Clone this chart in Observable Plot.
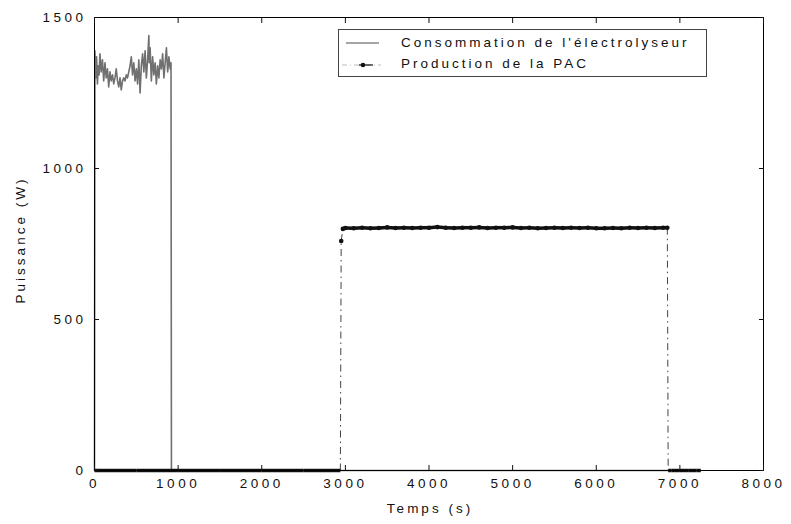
<!DOCTYPE html>
<html><head><meta charset="utf-8">
<script src="https://cdn.jsdelivr.net/npm/d3@7"></script>
<script src="https://cdn.jsdelivr.net/npm/@observablehq/plot@0.6"></script>
<style>
body{margin:0;background:#fff;}
#wrap{position:relative;width:791px;height:524px;font-family:"Liberation Sans",Arial,sans-serif;}
#wrap svg text{letter-spacing:3.5px;}
#legend{position:absolute;left:338px;top:29px;width:369px;height:48px;border:1px solid #444;background:#fff;box-sizing:border-box;font-size:13.5px;letter-spacing:3px;color:#111;}
.row{position:absolute;left:0;height:18px;line-height:18px;white-space:nowrap;}
.row svg{position:absolute;left:0;top:0;}
.row span{position:absolute;left:62px;top:0;}
.axt{position:absolute;font-size:13.5px;letter-spacing:3px;color:#111;white-space:nowrap;line-height:16px;}
</style></head>
<body><div id="wrap"></div>
<script>
// ---- data ----
const xTicks = [0, 1000, 2000, 3000, 4000, 5000, 6000, 7000, 8000];
const yTicks = [0, 500, 1000, 1500];
const xLabel = "Temps (s)";
const yLabel = "Puissance (W)";
const seriesNames = ["Consommation de l'électrolyseur", "Production de la PAC"];

const elecTime = [0, 5, 15, 25, 35, 45, 55, 65, 80, 95, 110, 125, 140, 155, 170, 185, 200, 215, 230, 245,
  260, 275, 290, 305, 320, 335, 350, 365, 380, 395, 410, 425, 440, 455, 470, 485, 500, 515, 530, 545,
  560, 575, 590, 605, 620, 635, 650, 655, 665, 680, 695, 710, 725, 740, 755, 770, 785, 800, 815, 830,
  845, 860, 875, 890, 905, 915, 920, 7250];
const elecPower = [0, 1390, 1300, 1370, 1280, 1340, 1310, 1380, 1320, 1360, 1290, 1350, 1300, 1330, 1270, 1320, 1290, 1310, 1280, 1300,
  1330, 1290, 1270, 1300, 1260, 1290, 1300, 1290, 1310, 1300, 1320, 1340, 1370, 1310, 1350, 1290, 1330, 1280, 1360, 1250,
  1340, 1380, 1320, 1390, 1300, 1360, 1440, 1350, 1400, 1290, 1370, 1310, 1350, 1280, 1340, 1300, 1360, 1330, 1380, 1300,
  1350, 1400, 1320, 1370, 1330, 1350, 0, 0];

const pacTime = [0, 500, 1000, 1500, 2000, 2500, 2940, 2950, 2970,
  3000, 3100, 3200, 3300, 3400, 3500, 3600, 3700, 3800, 3900, 4000, 4100, 4200, 4300, 4400, 4500, 4600, 4700, 4800, 4900,
  5000, 5100, 5200, 5300, 5400, 5500, 5600, 5700, 5800, 5900, 6000, 6100, 6200, 6300, 6400, 6500, 6600, 6700, 6800,
  6850, 6860, 6900, 7000, 7100, 7200, 7250];
const pacPower = [0, 0, 0, 0, 0, 0, 0, 760, 800,
  803, 802, 804, 802, 803, 805, 803, 804, 803, 804, 804, 806, 804, 803, 804, 804, 805, 803, 804, 804,
  805, 803, 804, 802, 803, 804, 803, 804, 803, 804, 802, 802, 803, 802, 804, 803, 804, 803, 804,
  804, 0, 0, 0, 0, 0, 0];

// ---- build ----
const elec = elecTime.map((t, i) => ({t, v: elecPower[i]}));
const pac = pacTime.map((t, i) => ({t, v: pacPower[i]}));
const pairs = pac.slice(1).map((d, i) => ({t1: pac[i].t, v1: pac[i].v, t2: d.t, v2: d.v}));
const steady = pairs.filter(p => Math.abs(p.v2 - p.v1) <= 30);
const jumps = pairs.filter(p => Math.abs(p.v2 - p.v1) > 30);
const fmt = d => String(d);

const chart = Plot.plot({
  width: 791, height: 524,
  marginLeft: 94, marginRight: 28, marginTop: 17, marginBottom: 54,
  style: {fontFamily: "'Liberation Sans', Arial, sans-serif", fontSize: "13.5px", color: "#111", background: "#fff"},
  x: {domain: [0, 8000]},
  y: {domain: [0, 1500]},
  marks: [
    Plot.line(elec, {x: "t", y: "v", stroke: "#707070", strokeWidth: 1.6}),
    Plot.link(jumps, {x1: "t1", y1: "v1", x2: "t2", y2: "v2", stroke: "#444", strokeWidth: 1, strokeDasharray: "7,4,1.5,4"}),
    Plot.link(steady, {x1: "t1", y1: "v1", x2: "t2", y2: "v2", stroke: "#111", strokeWidth: 3.5}),
    Plot.dot(pac.filter(d => d.v > 0), {x: "t", y: "v", r: 2.3, fill: "#111"}),
    Plot.frame({stroke: "#000", strokeWidth: 1}),
    Plot.axisX({ticks: xTicks, tickSize: -5, tickPadding: 13, tickFormat: fmt, label: null}),
    Plot.axisX({anchor: "top", ticks: xTicks, tickSize: -5, tickFormat: () => "", label: null}),
    Plot.axisY({ticks: yTicks, tickSize: -5, tickPadding: 13, tickFormat: fmt, label: null}),
    Plot.axisY({anchor: "right", ticks: yTicks, tickSize: -5, tickFormat: () => "", label: null})
  ]
});
const wrap = document.getElementById("wrap");
wrap.appendChild(chart);

const xl = document.createElement("div");
xl.className = "axt";
xl.textContent = xLabel;
xl.style.left = "430px"; xl.style.top = "501px"; xl.style.transform = "translateX(-50%)";
wrap.appendChild(xl);

const yl = document.createElement("div");
yl.className = "axt";
yl.textContent = yLabel;
yl.style.left = "21px"; yl.style.top = "240px"; yl.style.transform = "translate(-50%,-50%) rotate(-90deg)";
wrap.appendChild(yl);

const legend = document.createElement("div");
legend.id = "legend";
legend.innerHTML =
  `<div class="row" style="top:4px;width:100%"><svg width="60" height="18"><line x1="7" x2="40" y1="9" y2="9" stroke="#888" stroke-width="1.3"/></svg><span>${seriesNames[0]}</span></div>` +
  `<div class="row" style="top:25px;width:100%"><svg width="60" height="18"><line x1="3" x2="42" y1="10" y2="10" stroke="#bbb" stroke-width="1" stroke-dasharray="5,3,1,3"/><line x1="20" x2="34" y1="10" y2="10" stroke="#111" stroke-width="1.2"/><circle cx="24" cy="10" r="2.3" fill="#111"/></svg><span>${seriesNames[1]}</span></div>`;
wrap.appendChild(legend);
</script>
</body></html>
